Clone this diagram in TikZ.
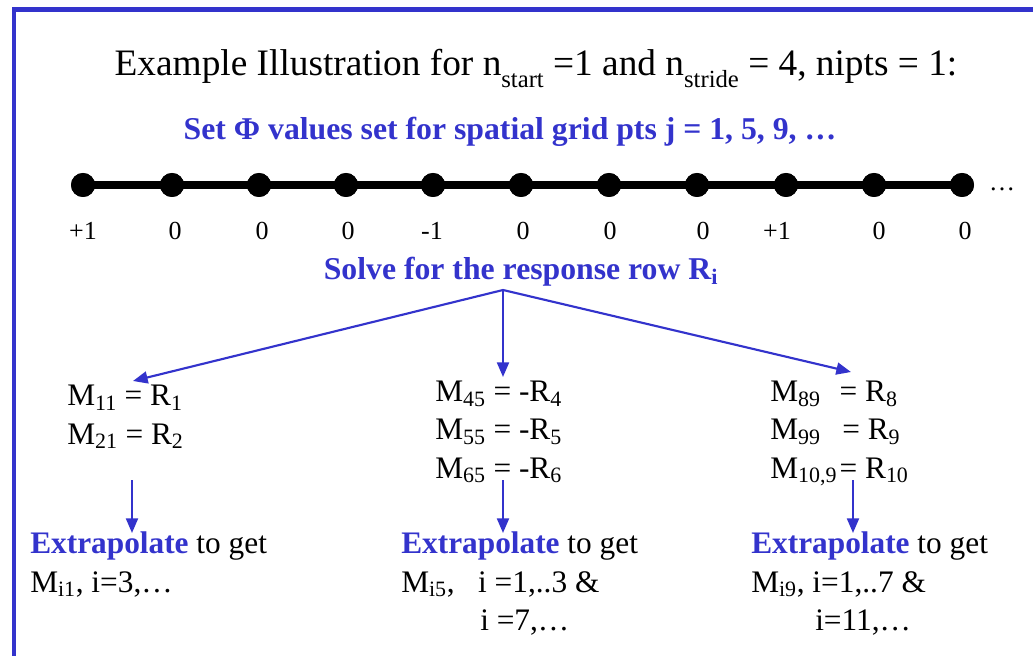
\documentclass[tikz,border=0pt]{standalone}
\usepackage{fontspec}
\setmainfont{Liberation Serif}
\usetikzlibrary{arrows.meta}
\definecolor{pblue}{RGB}{51,51,204}
\newcommand\sbs[1]{\textsubscript{#1}}
\newcommand\tsub[1]{\raisebox{-0.3em}{\fontsize{18.5}{18.5}\selectfont #1}}
\begin{document}
\begin{tikzpicture}[x=0.75pt,y=-0.75pt,
  titlefont/.style={font=\fontsize{28}{32}\selectfont, inner sep=0pt},
  big/.style={font=\fontsize{23.5}{28}\selectfont, inner sep=0pt},
  mid/.style={font=\fontsize{19.5}{23}\selectfont, inner sep=0pt},
  head/.style={font=\fontsize{23.8}{28}\selectfont\bfseries, text=pblue, inner sep=0pt},
  dot/.style={circle, fill=black, minimum size=18pt, inner sep=0pt},
  arr/.style={draw=pblue, line width=1.6pt, -{Triangle[length=11pt,width=9pt]}},
  frame/.style={draw=pblue, line width=3.6pt}]
\useasboundingbox (0,0) rectangle (1033,656);
\clip (0,0) rectangle (1033,656);
\draw[frame] (14,670) -- (14,9.5) -- (1050,9.5);

\node[titlefont, anchor=base] (title) at (536,76) {Example Illustration for n\tsub{start} =1 and n\tsub{stride} = 4, nipts = 1:};
\node[head, anchor=base] (set) at (510,140) {Set Φ values set for spatial grid pts j = 1, 5, 9, …};

% grid
\foreach \i/\x in {1/83,2/172,3/259,4/346,5/433,6/521,7/609,8/697,9/786,10/874,11/962}
  \node[dot] (d\i) at (\x,185) {};
\draw[line width=5.5pt] (d1.center) -- (d11.center);
\foreach \i/\x in {1/83,2/172,3/259,4/346,5/433,6/521,7/609,8/697,9/786,10/874,11/962}
  \node[dot] at (\x,185) {};
\node[mid, anchor=base] (ell) at (1002,191) {…};
\foreach \v/\x [count=\k] in {+1/83,0/175,0/262,0/348,-1/432,0/523,0/610,0/703,+1/777,0/879,0/965}
  \node[mid, anchor=base] (v\k) at (\x,240) {\v};

\node[head, anchor=base] (solve) at (521,280) {Solve for the response row R\sbs{i}};
\coordinate (src) at (503,290);

% left column
\node[big, anchor=base west] (l1) at (67,406) {M\sbs{11} = R\sbs{1}};
\node[big, anchor=base west] (l2) at (67,444) {M\sbs{21} = R\sbs{2}};
\node[big, anchor=base west] (l3) at (30,553) {\textcolor{pblue}{\bfseries Extrapolate} to get};
\node[big, anchor=base west] (l4) at (30,592) {M\sbs{i1}, i=3,…};
% middle column
\node[big, anchor=base west] (m1) at (435,402) {M\sbs{45} = -R\sbs{4}};
\node[big, anchor=base west] (m2) at (435,440) {M\sbs{55} = -R\sbs{5}};
\node[big, anchor=base west] (m3) at (435,478) {M\sbs{65} = -R\sbs{6}};
\node[big, anchor=base west] (m4) at (401,553) {\textcolor{pblue}{\bfseries Extrapolate} to get};
\node[big, anchor=base west] (m5) at (401,592) {M\sbs{i5},\ \ \ i =1,..3 \&};
\node[big, anchor=base west] (m6) at (480,630) {i =7,…};
% right column
\node[big, anchor=base west] (r1) at (770,402) {\makebox[52pt][l]{M\sbs{89}}= R\sbs{8}};
\node[big, anchor=base west] (r2) at (770,440) {\makebox[54pt][l]{M\sbs{99}}= R\sbs{9}};
\node[big, anchor=base west] (r3) at (770,478) {\makebox[52pt][l]{M\sbs{10,9}}= R\sbs{10}};
\node[big, anchor=base west] (r4) at (751,553) {\textcolor{pblue}{\bfseries Extrapolate} to get};
\node[big, anchor=base west] (r5) at (751,592) {M\sbs{i9}, i=1,..7 \&};
\node[big, anchor=base west] (r6) at (815,630) {i=11,…};

% arrows
\coordinate (tl) at (133,381);
\coordinate (tm) at (503,377);
\coordinate (tr) at (851,372);
\draw[arr] (src) -- (tl);
\draw[arr] (src) -- (tm);
\draw[arr] (src) -- (tr);
\coordinate (a1s) at (132,480); \coordinate (a1e) at (132,533);
\coordinate (a2s) at (503,480); \coordinate (a2e) at (503,533);
\coordinate (a3s) at (853,480); \coordinate (a3e) at (853,533);
\draw[arr] (a1s) -- (a1e);
\draw[arr] (a2s) -- (a2e);
\draw[arr] (a3s) -- (a3e);
\end{tikzpicture}
\end{document}
